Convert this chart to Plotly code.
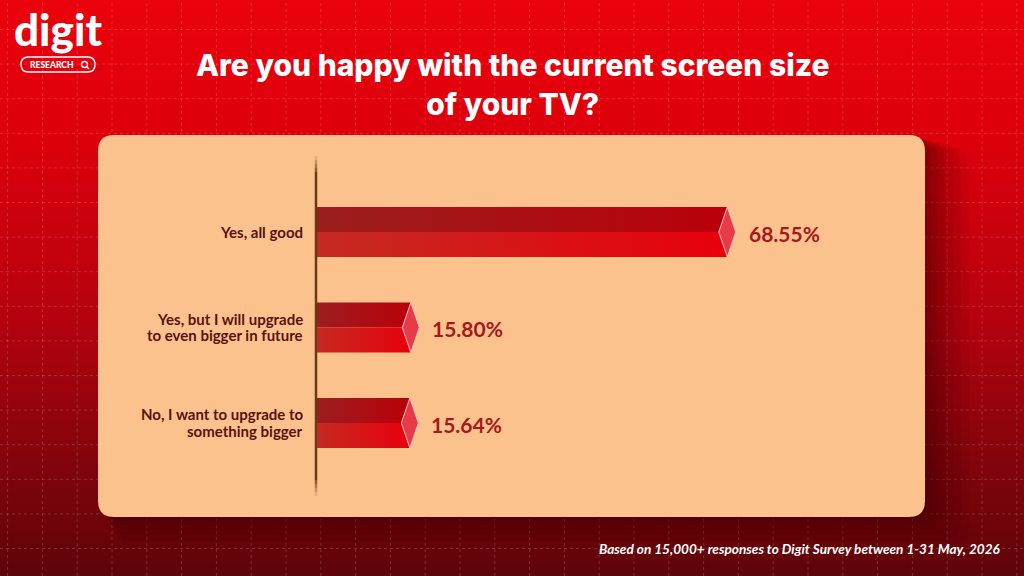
import plotly.graph_objects as go

# ---------------- data ----------------
categories = [
    "Yes, all good",
    "Yes, but I will upgrade<br>to even bigger in future",
    "No, I want to upgrade to<br>something bigger",
]
values = [68.55, 15.80, 15.64]
value_labels = ["68.55%", "15.80%", "15.64%"]

title_text = "Are you happy with the current screen size<br>of your TV?"
footer_text = "Based on 15,000+ responses to Digit Survey between 1-31 May, 2026"

W, H = 1024, 576


def px(x):
    return x / W


def py(y):
    return 1 - y / H


def lerp(a, b, t):
    return a + (b - a) * t


def grad_color(y, stops):
    for (y0, c0), (y1, c1) in zip(stops[:-1], stops[1:]):
        if y0 <= y <= y1:
            t = (y - y0) / (y1 - y0)
            return "rgb(%d,%d,%d)" % tuple(round(lerp(c0[i], c1[i], t)) for i in range(3))
    return "rgb(%d,%d,%d)" % stops[-1][1]


shapes = []

# background vertical gradient (strips)
bg_stops = [(0, (234, 2, 12)), (140, (220, 0, 12)), (320, (180, 2, 14)), (460, (130, 4, 12)), (576, (94, 4, 8))]
step = 4
for y in range(0, H, step):
    shapes.append(dict(type="rect", xref="paper", yref="paper", x0=0, x1=1,
                       y0=py(y + step + 0.6), y1=py(y), fillcolor=grad_color(y + step / 2, bg_stops),
                       line=dict(width=0), layer="below"))

# dotted grid
xs = []
x = 112.0
while x > 0:
    x -= 34.8
while x < W:
    if x > 0:
        xs.append(x)
    x += 34.8
for x in xs:
    shapes.append(dict(type="line", xref="paper", yref="paper", x0=px(x), x1=px(x), y0=0, y1=1,
                       line=dict(color="rgba(255,255,255,0.16)", width=1, dash="dot"), layer="below"))
y = 29.5
while y < H:
    shapes.append(dict(type="line", xref="paper", yref="paper", x0=0, x1=1, y0=py(y), y1=py(y),
                       line=dict(color="rgba(255,255,255,0.16)", width=1, dash="dot"), layer="below"))
    y += 34.6


def rrect(x0, y0, x1, y1, r):
    rx, ry = r / W, r / H
    X0, X1, Y0, Y1 = px(x0), px(x1), py(y1), py(y0)  # Y0 bottom, Y1 top
    return (f"M{X0+rx},{Y1} L{X1-rx},{Y1} Q{X1},{Y1} {X1},{Y1-ry} "
            f"L{X1},{Y0+ry} Q{X1},{Y0} {X1-rx},{Y0} L{X0+rx},{Y0} "
            f"Q{X0},{Y0} {X0},{Y0+ry} L{X0},{Y1-ry} Q{X0},{Y1} {X0+rx},{Y1} Z")


# panel shadow
for dx, dy, a in [(44, 30, 0.06), (36, 24, 0.07), (28, 18, 0.08), (20, 13, 0.10),
                  (13, 8, 0.11), (6, 4, 0.13)]:
    shapes.append(dict(type="path", xref="paper", yref="paper",
                       path=rrect(98 + dx * 0.4, 135 + dy * 0.4, 925 + dx, 517 + dy, 22),
                       fillcolor=f"rgba(45,0,0,{a})", line=dict(width=0), layer="below"))
# panel
shapes.append(dict(type="path", xref="paper", yref="paper", path=rrect(98, 135, 925, 517, 16),
                   fillcolor="#fcc28d", line=dict(width=0), layer="below"))

# axis line (with faded ends)
shapes.append(dict(type="line", xref="paper", yref="paper", x0=px(316), x1=px(316), y0=py(480), y1=py(172),
                   line=dict(color="#6b3a14", width=2.5), layer="above"))
for i, a in enumerate([0.15, 0.35, 0.55, 0.75]):
    shapes.append(dict(type="line", xref="paper", yref="paper", x0=px(316), x1=px(316),
                       y0=py(156 + 4 * i + 4), y1=py(156 + 4 * i),
                       line=dict(color=f"rgba(107,58,20,{a})", width=2.5), layer="above"))
    shapes.append(dict(type="line", xref="paper", yref="paper", x0=px(316), x1=px(316),
                       y0=py(496 - 4 * i), y1=py(496 - 4 * i - 4),
                       line=dict(color=f"rgba(107,58,20,{a})", width=2.5), layer="above"))

# logo pill + magnifier
shapes.append(dict(type="path", xref="paper", yref="paper", path=rrect(21, 57, 95, 72, 7.5),
                   fillcolor="rgba(0,0,0,0)", line=dict(color="white", width=1.4), layer="above"))
shapes.append(dict(type="circle", xref="paper", yref="paper", x0=px(81.5), x1=px(87.5), y0=py(67.5), y1=py(61.5),
                   fillcolor="rgba(0,0,0,0)", line=dict(color="white", width=1.3), layer="above"))
shapes.append(dict(type="line", xref="paper", yref="paper", x0=px(86.7), x1=px(89), y0=py(66.8), y1=py(69),
                   line=dict(color="white", width=1.4), layer="above"))

# ---------------- chart traces ----------------
fig = go.Figure()

SCALE = 6.0          # px per percent
x_left = 316
x_span = 100 * SCALE
centers = [232, 328.5, 423]
pitch = 95.5
half_px = 25
h = half_px / pitch            # half bar height in y units
dx = 8.5 / SCALE               # diamond half-width in x units

top_cols = ["#9b1e1e", "#ba000a"]
bot_cols = ["#c52a22", "#e8000c"]

for i, v in enumerate(values):
    fig.add_trace(go.Scatter(
        x=[0, v, v, 0, 0], y=[i - h, i - h, i, i, i - h], mode="lines", fill="toself",
        line=dict(width=0), fillgradient=dict(type="horizontal", colorscale=[[0, top_cols[0]], [1, top_cols[1]]]),
        hoverinfo="skip", showlegend=False))
    fig.add_trace(go.Scatter(
        x=[0, v, v, 0, 0], y=[i, i, i + h, i + h, i], mode="lines", fill="toself",
        line=dict(width=0), fillgradient=dict(type="horizontal", colorscale=[[0, bot_cols[0]], [1, bot_cols[1]]]),
        hoverinfo="skip", showlegend=False))
    fig.add_trace(go.Scatter(
        x=[v - dx, v, v + dx, v, v - dx], y=[i, i - h, i, i + h, i], mode="lines", fill="toself",
        fillcolor="#e83b48", line=dict(color="#f7c4c4", width=1),
        hoverinfo="skip", showlegend=False))

annotations = []
line_pitch = 16.7
for i, (c, v, lab) in enumerate(zip(categories, values, value_labels)):
    lines = c.split("<br>")
    n = len(lines)
    for k, ln in enumerate(lines):
        annotations.append(dict(x=0, y=i, xref="x", yref="y", text=ln, showarrow=False,
                                xanchor="right", yanchor="middle", align="right", xshift=-11,
                                yshift=-((k - (n - 1) / 2) * line_pitch) + 0.5,
                                font=dict(family="Lato", size=15, color="#581212", weight="bold")))
    annotations.append(dict(x=v, y=i, xref="x", yref="y", text=lab, showarrow=False, xanchor="left",
                            yanchor="middle", xshift=8.5 + 11, yshift=-1,
                            font=dict(family="Lato", size=21, color="#a6181e", weight="bold")))

annotations += [
    dict(x=px(512), y=py(84), xref="paper", yref="paper", text=title_text, showarrow=False,
         xanchor="center", yanchor="middle",
         font=dict(family="Inter", size=30, color="white", weight=800), align="center"),
    dict(x=px(1003), y=py(549), xref="paper", yref="paper", text="<i>" + footer_text + "</i>",
         showarrow=False, xanchor="right", yanchor="middle",
         font=dict(family="Lato", size=13.6, color="white", weight="bold")),
    dict(x=px(58), y=py(57), xref="paper", yref="paper", text="digit", showarrow=False,
         xanchor="center", yanchor="bottom",
         font=dict(family="Lato", size=44, color="white", weight=900)),
    dict(x=px(52), y=py(64.8), xref="paper", yref="paper", text="RESEARCH", showarrow=False,
         xanchor="center", yanchor="middle",
         font=dict(family="Lato", size=8.5, color="white", weight=900)),
]

y_top_px = centers[0] - pitch / 2
y_bot_px = centers[-1] + pitch / 2

fig.update_layout(
    width=W, height=H, autosize=False,
    margin=dict(l=0, r=0, t=0, b=0),
    paper_bgcolor="#c00010", plot_bgcolor="rgba(0,0,0,0)",
    shapes=shapes, annotations=annotations,
    xaxis=dict(domain=[px(x_left), px(x_left + x_span)], range=[0, 100], visible=False, fixedrange=True),
    yaxis=dict(domain=[py(y_bot_px), py(y_top_px)], range=[len(values) - 0.5, -0.5], visible=False,
               fixedrange=True),
    showlegend=False,
)

fig.write_html("out.html", config={"displayModeBar": False})
